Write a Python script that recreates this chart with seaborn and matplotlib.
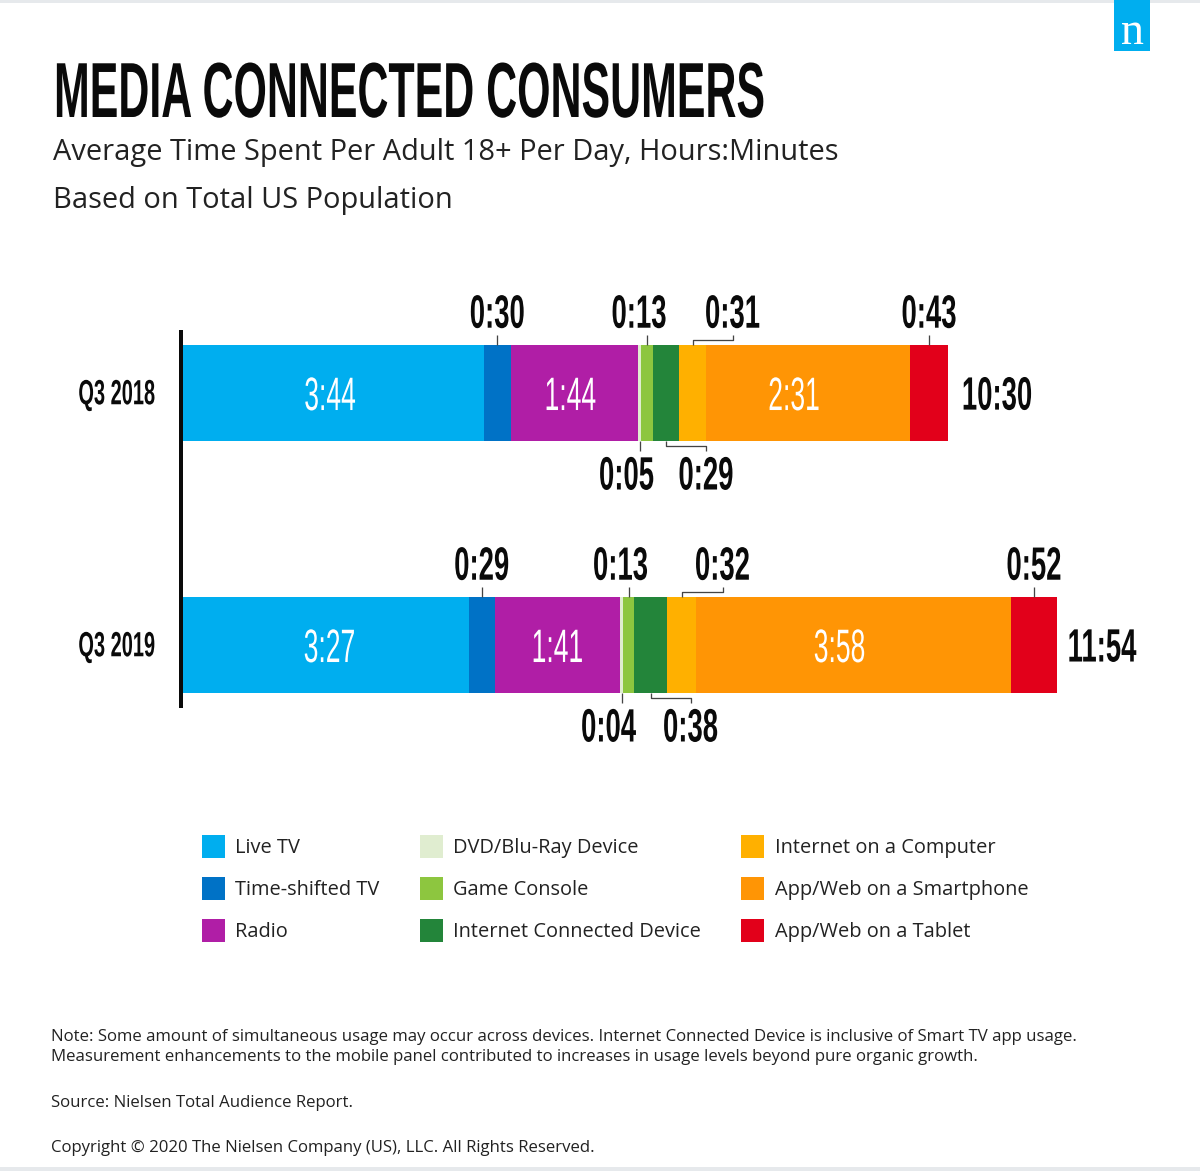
import pandas as pd
import seaborn as sns
import matplotlib.pyplot as plt
from matplotlib.patches import Patch, Rectangle
from matplotlib.patheffects import AbstractPathEffect
from matplotlib.transforms import Affine2D

periods = ['Q3 2018', 'Q3 2019']
categories = ['Live TV', 'Time-shifted TV', 'Radio', 'DVD/Blu-Ray Device', 'Game Console',
              'Internet Connected Device', 'Internet on a Computer', 'App/Web on a Smartphone',
              'App/Web on a Tablet']
colors = ['#00AEEF', '#0072C6', '#B01EA6', '#E0EDD0', '#8DC63F', '#23853A', '#FFB000', '#FF9505', '#E2001A']

# the bars in the original are not to scale with their labels, so lengths are read off separately
lengths_2018 = [302, 26.5, 127.5, 3, 12, 26, 27, 204, 38]
lengths_2019 = [287, 25.5, 125.5, 3, 11, 33, 29, 315, 46]
labels_2018 = ['3:44', '0:30', '1:44', '0:05', '0:13', '0:29', '0:31', '2:31', '0:43']
labels_2019 = ['3:27', '0:29', '1:41', '0:04', '0:13', '0:38', '0:32', '3:58', '0:52']
totals = ['10:30', '11:54']

# where each small label goes: 'in' = inside bar, 'up' / 'down' = outside, plus sideways shift of the text
placement = ['in', 'up', 'in', 'down', 'up', 'down', 'up', 'in', 'up']
shifts_2018 = [-3, 0, -4, -13, -8, 40, 40, -14, 0]
shifts_2019 = [4, 0, 0, -13, -8, 40, 41, -14, 0]
total_gaps = [49, 45]

W, H = 1200, 1171
BLACK = '#0a0a0a'
BODY = '#222222'


class Tall(AbstractPathEffect):
    # stretches a text upward to get the condensed look, no installed font is narrow enough
    def __init__(self, sy, baseline=False):
        super().__init__()
        self.sy = sy
        self.baseline = baseline

    def draw_path(self, renderer, gc, tpath, affine, rgbFace=None):
        box = tpath.get_extents()
        a = 0 if self.baseline else (box.y0 + box.y1) / 2
        tall = Affine2D().translate(0, -a).scale(1, self.sy).translate(0, a)
        renderer.draw_path(gc, tpath, tall + affine, rgbFace)


def px(size):
    return size * 0.72


def fx(x):
    return x / W


def fy(y):
    return 1 - y / H


sns.set_theme(style='white')
plt.rcParams['font.family'] = ['Open Sans', 'DejaVu Sans']

fig = plt.figure(figsize=(W / 100, H / 100), dpi=100, facecolor='white')
ax = fig.add_axes([fx(182), fy(708), fx(1000), 378 / H])

rows = []
for period, lengths in zip(periods, [lengths_2018, lengths_2019]):
    running = 0
    for cat, value in zip(categories, lengths):
        running += value
        rows.append({'period': period, 'category': cat, 'end': running})
df = pd.DataFrame(rows)

# stacked look: draw the cumulative ends from the longest to the shortest
for cat, color in reversed(list(zip(categories, colors))):
    part = df[df['category'] == cat]
    sns.barplot(data=part, x='end', y='period', order=periods, color=color, saturation=1,
                width=0.381, linewidth=0, ax=ax)

ax.set_xlim(0, 1000)
ax.set_ylim(1.25, -0.25)
ax.set_xlabel('')
ax.set_ylabel('')
ax.set_xticks([])
ax.patch.set_alpha(0)
sns.despine(ax=ax, left=False, bottom=True)
ax.spines['left'].set_linewidth(px(4))
ax.spines['left'].set_color(BLACK)
ax.spines['left'].set_capstyle('butt')
ax.spines['left'].set_position(('outward', px(1)))
ax.tick_params(axis='y', length=0, pad=px(26))
for tick in ax.get_yticklabels():
    tick.set_fontfamily('Liberation Sans')
    tick.set_fontweight('bold')
    tick.set_fontsize(px(20))
    tick.set_color(BLACK)
    tick.set_path_effects([Tall(1.75)])

half = 0.381 / 2
leader = dict(color='#444444', lw=px(1.3), clip_on=False, solid_capstyle='butt')
small = dict(family='Liberation Sans', weight='bold', fontsize=px(27.5), color=BLACK,
             ha='center', va='center_baseline', path_effects=[Tall(1.7)])
inner = dict(family='Liberation Sans', fontsize=px(26.5), color='white',
             ha='center', va='center_baseline', path_effects=[Tall(1.77)])

for i, (lengths, labels, shifts) in enumerate(zip([lengths_2018, lengths_2019],
                                                  [labels_2018, labels_2019],
                                                  [shifts_2018, shifts_2019])):
    start = 0
    for value, label, where, shift in zip(lengths, labels, placement, shifts):
        mid = start + value / 2
        start += value
        if where == 'in':
            ax.text(mid + shift, i, label, **inner)
            continue
        sign = -1 if where == 'up' else 1
        edge = i + sign * half
        if abs(shift) > 20:
            # elbow connector
            ax.plot([mid, mid, mid + shift, mid + shift],
                    [edge, edge + sign * 0.02, edge + sign * 0.02, edge + sign * 0.04], **leader)
        else:
            ax.plot([mid, mid], [edge, edge + sign * 0.04], **leader)
        ax.text(mid + shift, i + sign * 0.321 - 0.004, label, **small)
    ax.text(start + total_gaps[i], i, totals[i], **small)

handles = [Patch(facecolor=c, edgecolor='none', label=cat) for cat, c in zip(categories, colors)]
fig.legend(handles=handles, ncol=3, frameon=False, loc='upper left',
           bbox_to_anchor=(fx(202), fy(835)), bbox_transform=fig.transFigure, borderaxespad=0, borderpad=0,
           fontsize=px(20.05), handlelength=1.15, handleheight=1.39, handletextpad=0.52,
           labelspacing=0.93, columnspacing=2.0, labelcolor=BODY)

fig.text(fx(54), fy(117), 'MEDIA CONNECTED CONSUMERS', family='Liberation Sans', weight='bold',
         fontsize=px(42.9), color=BLACK, ha='left', va='baseline', path_effects=[Tall(1.82, baseline=True)])
fig.text(fx(53), fy(160), 'Average Time Spent Per Adult 18+ Per Day, Hours:Minutes', fontsize=px(29), color=BODY)
fig.text(fx(53), fy(208), 'Based on Total US Population', fontsize=px(29), color=BODY)

fig.text(fx(51), fy(1041), 'Note: Some amount of simultaneous usage may occur across devices. Internet Connected Device '
         'is inclusive of Smart TV app usage.', fontsize=px(16.8), color=BODY)
fig.text(fx(51), fy(1061), 'Measurement enhancements to the mobile panel contributed to increases in usage levels '
         'beyond pure organic growth.', fontsize=px(16.8), color=BODY)
fig.text(fx(51), fy(1107), 'Source: Nielsen Total Audience Report.', fontsize=px(16.8), color=BODY)
fig.text(fx(51), fy(1152), 'Copyright © 2020 The Nielsen Company (US), LLC. All Rights Reserved.', fontsize=px(16.8), color=BODY)

# page edges and logo
for y0, y1 in [(0, 3), (1167, 1171)]:
    fig.add_artist(Rectangle((0, fy(y1)), 1, (y1 - y0) / H, transform=fig.transFigure, color='#E6E9EC', lw=0))
fig.add_artist(Rectangle((fx(1114), fy(51)), 36 / W, 51 / H, transform=fig.transFigure, color='#00AEEF', lw=0))
fig.text(fx(1132), fy(44), 'n', family='Liberation Serif', fontsize=px(46), color='white', ha='center', va='baseline')

fig.savefig('out.png', dpi=100)
